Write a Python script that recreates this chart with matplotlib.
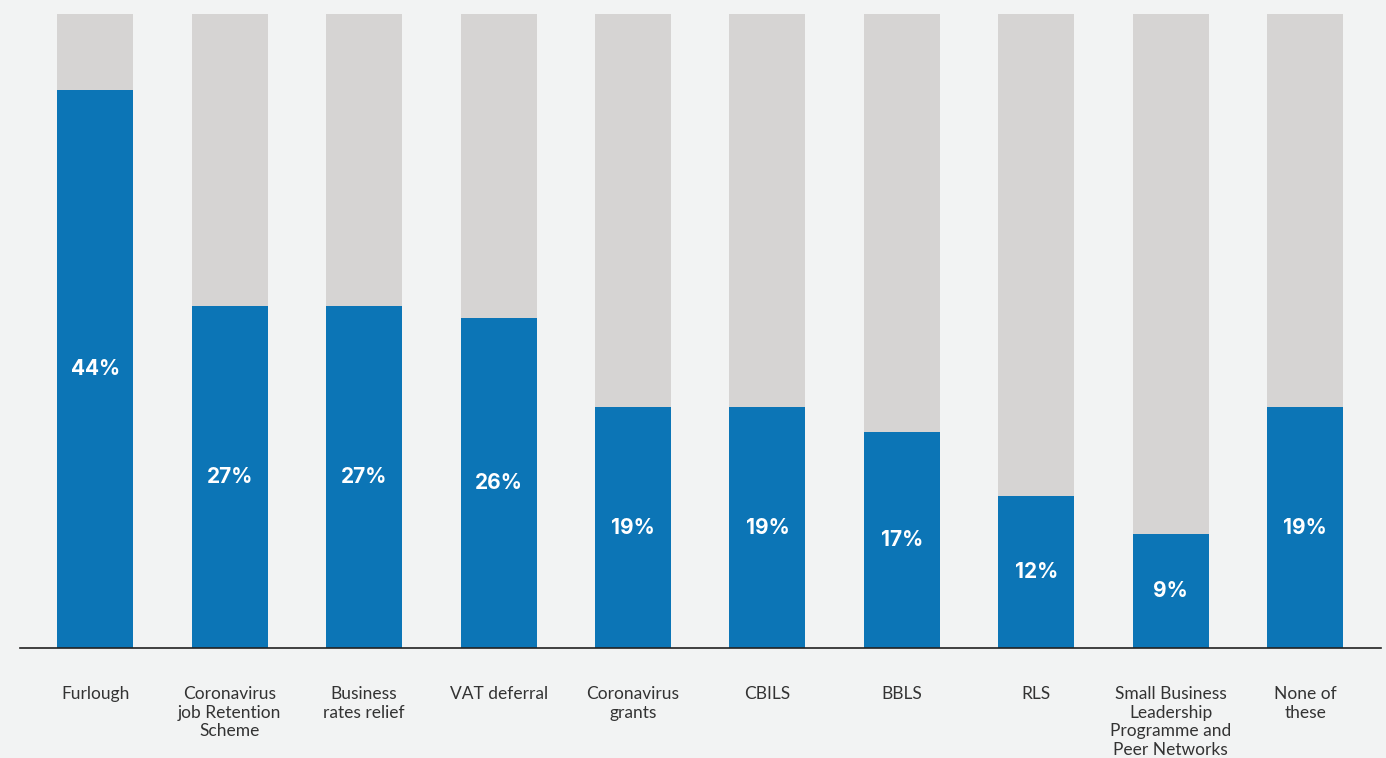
import matplotlib
matplotlib.use("Agg")
import matplotlib.pyplot as plt

categories = [
    "Furlough",
    "Coronavirus\njob Retention\nScheme",
    "Business\nrates relief",
    "VAT deferral",
    "Coronavirus\ngrants",
    "CBILS",
    "BBLS",
    "RLS",
    "Small Business\nLeadership\nProgramme and\nPeer Networks",
    "None of\nthese",
]
values = [44, 27, 27, 26, 19, 19, 17, 12, 9, 19]
scale_max = 50

BG = "#f2f3f3"
GREY = "#d6d4d3"
BLUE = "#0c75b6"
TEXT = "#333333"

plt.rcParams["font.family"] = ["Lato", "DejaVu Sans"]

fig = plt.figure(figsize=(13.86, 7.58), dpi=100, facecolor=BG)
ax = fig.add_axes([20 / 1386, 110 / 758, 1360.5 / 1386, 634 / 758])
ax.set_facecolor(BG)

x = range(len(categories))
width = 0.565
ax.bar(x, [scale_max] * len(values), width=width, color=GREY, zorder=1)
ax.bar(x, values, width=width, color=BLUE, zorder=2)

# percentage labels sit in the middle of each blue bar
for xi, v in zip(x, values):
    ax.text(xi, v / 2, f"{v}%", ha="center", va="center", color="white",
            fontsize=15, fontweight="bold", family=["Inter", "DejaVu Sans"],
            zorder=3)

ax.set_xlim(-0.56, len(categories) - 1 + 0.56)
ax.set_ylim(0, scale_max)
ax.set_xticks(list(x))
ax.set_xticklabels(categories, fontsize=12.5, color=TEXT, linespacing=1.2,
                   va="top")
ax.tick_params(axis="x", length=0, pad=27.5)
ax.set_yticks([])
for side in ("top", "right", "left"):
    ax.spines[side].set_visible(False)
ax.spines["bottom"].set_color("#222222")
ax.spines["bottom"].set_linewidth(1.2)

fig.savefig("out.png", dpi=100, facecolor=BG)
